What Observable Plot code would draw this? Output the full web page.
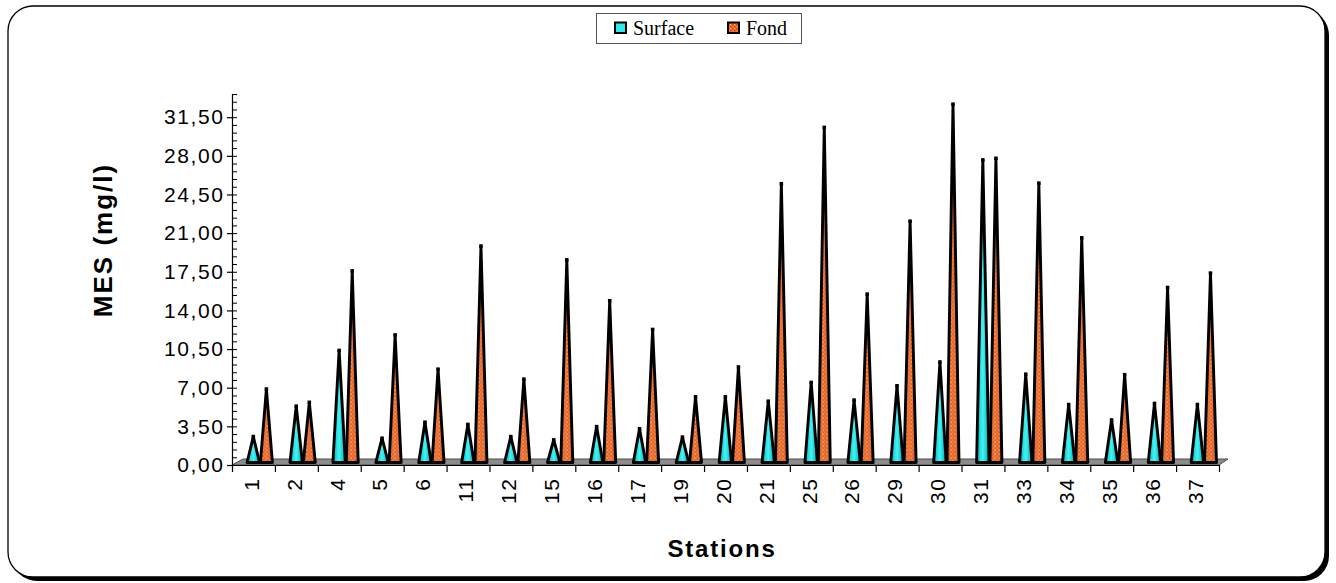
<!DOCTYPE html>
<html>
<head>
<meta charset="utf-8">
<script src="https://cdn.jsdelivr.net/npm/d3@7"></script>
<script src="https://cdn.jsdelivr.net/npm/@observablehq/plot@0.6"></script>
<style>
  html, body { margin: 0; padding: 0; background: #fff; }
  #chart { width: 1336px; height: 583px; }
  #chart g[aria-label="y-axis tick label"] text,
  #chart g[aria-label="x-axis tick label"] text { letter-spacing: 1.6px; }
</style>
</head>
<body>
<div id="chart"></div>
<script>
// Stations sampled
const stations = ["1", "2", "4", "5", "6", "11", "12", "15", "16", "17", "19", "20",
                  "21", "25", "26", "29", "30", "31", "33", "34", "35", "36", "37"];

// Suspended matter (MES, mg/l) at the surface and near the bottom
const surface = [2.35, 5.1, 10.15, 2.2, 3.65, 3.45, 2.35, 2.05, 3.25, 3.05, 2.3, 5.95,
                 5.55, 7.25, 5.65, 6.95, 9.1, 27.4, 8.0, 5.25, 3.85, 5.35, 5.25];
const fond = [6.65, 5.45, 17.35, 11.55, 8.45, 19.6, 7.55, 18.35, 14.65, 12.05, 5.95, 8.65,
              25.25, 30.35, 15.25, 21.85, 32.45, 27.55, 25.3, 20.35, 7.95, 15.85, 17.15];

const seriesNames = ["Surface", "Fond"];
const yTickValues = [0, 3.5, 7, 10.5, 14, 17.5, 21, 24.5, 28, 31.5];
const yMax = 33.6;

const fmt = v => v.toFixed(2).replace(".", ",");

const rows = stations.map((station, i) => ({i, station, Surface: surface[i], Fond: fond[i]}));

// Each cone occupies part of its station slot
const slot = {Surface: {center: 0.485, half: 0.145}, Fond: {center: 0.79, half: 0.14}};

// Outline of every cone: base-left, apex, base-right, back to base-left
const outline = [];
const apexes = [];
for (const r of rows) {
  for (const s of seriesNames) {
    const {center, half} = slot[s];
    const c = r.i + center;
    const key = s + "-" + r.station;
    outline.push(
      {key, series: s, x: c - half, y: 0},
      {key, series: s, x: c, y: r[s]},
      {key, series: s, x: c + half, y: 0},
      {key, series: s, x: c - half, y: 0}
    );
    apexes.push({series: s, x: c, y: r[s]});
  }
}

const coneMarks = (s, body, shade) => [
  Plot.line(outline.filter(d => d.series === s), {
    x: "x", y: "y", z: "key", dy: -3, fill: body, stroke: "none"
  }),
  Plot.line(outline.filter(d => d.series === s), {
    x: "x", y: "y", z: "key", dy: -3, fill: shade,
    stroke: "#000", strokeWidth: 2.9, strokeLinejoin: "round", strokeLinecap: "round"
  }),
  Plot.dot(apexes.filter(d => d.series === s), {
    x: "x", y: "y", dy: -3, symbol: "square", r: 2, fill: "#000", stroke: "none"
  })
];

const plot = Plot.plot({
  width: 1336,
  height: 583,
  marginLeft: 232,
  marginRight: 117,
  marginTop: 94,
  marginBottom: 118,
  style: {fontFamily: "'Liberation Sans', Arial, sans-serif", color: "#000", background: "none", overflow: "visible"},
  x: {type: "linear", domain: [0, stations.length], label: null},
  y: {domain: [0, yMax], label: null},
  marks: [
    ...coneMarks("Surface", "url(#cyanBody)", "url(#cyanShade)"),
    ...coneMarks("Fond", "url(#orangeDots)", "url(#orangeShade)"),
    // axis lines
    Plot.ruleX([0], {y1: 0, y2: yMax, stroke: "#000", strokeWidth: 1.2}),
    Plot.ruleY([0], {x1: 0, x2: stations.length, stroke: "#000", strokeWidth: 1.2}),
    // major y ticks with labels (outside)
    Plot.axisY({ticks: yTickValues, tickFormat: fmt, tickSize: 5, tickPadding: 3,
                fontSize: 21, label: null, strokeWidth: 1.2}),
    // minor y ticks (inside)
    Plot.axisY({ticks: d3.range(0, yMax + 0.01, 0.7), tickFormat: () => "", tickSize: 5,
                dx: 5, label: null, strokeWidth: 1}),
    // slot boundaries on the x axis
    Plot.axisX({ticks: d3.range(0, stations.length + 1), tickFormat: () => "", tickSize: 7,
                label: null, strokeWidth: 1.2}),
    // station names
    Plot.axisX({ticks: stations.map((_, i) => i + 0.5), tickFormat: v => stations[Math.floor(v)],
                tickRotate: -90, tickSize: 0, tickPadding: 12, fontSize: 21, dx: -2, label: null})
  ]
});

document.getElementById("chart").append(plot);

const svg = d3.select(plot);
const X = plot.scale("x"), Y = plot.scale("y");

// gradients and patterns used by the cones
const defs = svg.insert("defs", ":first-child");
const cyan = defs.append("linearGradient").attr("id", "cyanBody").attr("x1", 0).attr("x2", 1).attr("y1", 0).attr("y2", 0);
[[0, "#06a8ae"], [0.3, "#22dfe2"], [0.5, "#46f2f2"], [0.75, "#1cd2d6"], [1, "#0a9aa2"]]
  .forEach(([o, c]) => cyan.append("stop").attr("offset", o).attr("stop-color", c));
const cyanShade = defs.append("linearGradient").attr("id", "cyanShade").attr("x1", 0).attr("x2", 0).attr("y1", 0).attr("y2", 1);
[[0, "#000", 0.35], [0.35, "#000", 0.0], [1, "#000", 0.0]]
  .forEach(([o, c, a]) => cyanShade.append("stop").attr("offset", o).attr("stop-color", c).attr("stop-opacity", a));

const pat = defs.append("pattern").attr("id", "orangeDots").attr("patternUnits", "userSpaceOnUse")
  .attr("width", 4).attr("height", 4);
pat.append("rect").attr("width", 4).attr("height", 4).attr("fill", "#f07a2c");
pat.append("rect").attr("x", 0).attr("y", 0).attr("width", 1.5).attr("height", 1.5).attr("fill", "#d8301a");
pat.append("rect").attr("x", 2).attr("y", 2).attr("width", 1.5).attr("height", 1.5).attr("fill", "#d8301a");
pat.append("rect").attr("x", 2).attr("y", 0).attr("width", 1).attr("height", 1).attr("fill", "#ffc846");
const orangeShade = defs.append("linearGradient").attr("id", "orangeShade").attr("x1", 0).attr("x2", 1).attr("y1", 0).attr("y2", 0);
[[0, "#000", 0.22], [0.4, "#fff", 0.1], [0.6, "#fff", 0.04], [1, "#000", 0.25]]
  .forEach(([o, c, a]) => orangeShade.append("stop").attr("offset", o).attr("stop-color", c).attr("stop-opacity", a));

// rounded outer frame with a drop shadow on the right and bottom
svg.insert("rect", "defs + *")
  .attr("x", 8).attr("y", 6).attr("width", 1317).attr("height", 571).attr("rx", 25)
  .attr("fill", "#fff").attr("stroke", "#000").attr("stroke-width", 1.3);
svg.insert("rect", "defs + *")
  .attr("x", 12).attr("y", 10).attr("width", 1317).attr("height", 571).attr("rx", 25)
  .attr("fill", "#000");

// grey floor under the cones
const x0 = X.apply(0), x1 = X.apply(stations.length), y0 = Y.apply(0);
svg.insert("path", 'g[aria-label="line"]')
  .attr("d", `M${x0},${y0}L${x0 + 11},${y0 - 6}L${x1 + 9},${y0 - 6}L${x1},${y0}Z`)
  .attr("fill", "#8c8c8c").attr("stroke", "#4a4a4a").attr("stroke-width", 1);

// axis titles
svg.append("text")
  .attr("transform", "translate(112,240) rotate(-90)")
  .attr("text-anchor", "middle")
  .attr("font-family", "'Liberation Sans', Arial, sans-serif")
  .attr("font-weight", "bold").attr("font-size", 26).attr("letter-spacing", 2)
  .text("MES (mg/l)");
svg.append("text")
  .attr("x", 722).attr("y", 557)
  .attr("text-anchor", "middle")
  .attr("font-family", "'Liberation Sans', Arial, sans-serif")
  .attr("font-weight", "bold").attr("font-size", 24).attr("letter-spacing", 1.8)
  .text("Stations");

// legend
const leg = svg.append("g").attr("text-anchor", "start");
leg.append("rect").attr("x", 596.5).attr("y", 13.5).attr("width", 205).attr("height", 30)
  .attr("fill", "#fff").attr("stroke", "#555").attr("stroke-width", 1);
const legendItems = [
  {name: seriesNames[0], fill: "#2ee8ec", x: 615},
  {name: seriesNames[1], fill: "url(#orangeDots)", x: 728}
];
for (const it of legendItems) {
  leg.append("rect").attr("x", it.x).attr("y", 22.5).attr("width", 11).attr("height", 10.5)
    .attr("fill", it.fill).attr("stroke", "#000").attr("stroke-width", 2);
  leg.append("text").attr("x", it.x + 18).attr("y", 34.5)
    .attr("font-family", "'Liberation Serif', 'Times New Roman', serif").attr("font-size", 20)
    .text(it.name);
}
</script>
</body>
</html>
